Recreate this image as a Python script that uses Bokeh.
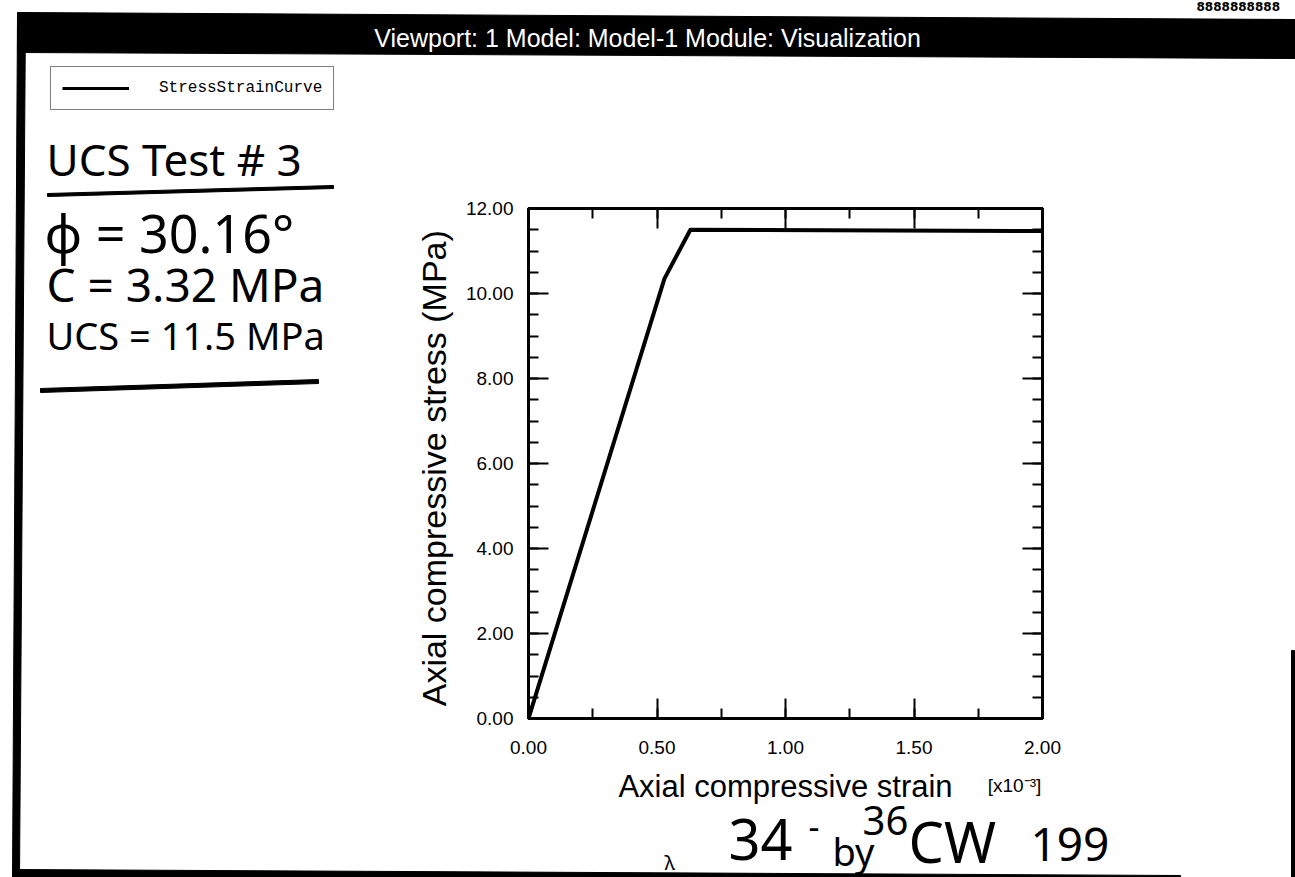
from bokeh.plotting import figure
from bokeh.layouts import column
from bokeh.models import (Range1d, LinearAxis, SingleIntervalTicker, NumeralTickFormatter,
                          CustomJSTickFormatter, Legend, LegendItem, GridBox)
from bokeh.core.properties import value
from bokeh.embed import file_html
from bokeh.resources import INLINE

# ---------------- data ----------------
strain = [0.0, 0.529, 0.630, 2.0]        # axial compressive strain [x10^-3]
stress = [0.0, 10.35, 11.50, 11.47]      # axial compressive stress (MPa)
series_name = "StressStrainCurve"
header_text = "Viewport: 1  Model: Model-1  Module: Visualization"
notes = ["UCS Test # 3", "ϕ = 30.16°", "C = 3.32 MPa", "UCS = 11.5 MPa"]

# ---------------- layout ----------------
W, H = 1295, 877
FL, FR, FT, FB = 528, 1042, 208, 718   # chart frame edges in canvas px
TICK_FONT = "Liberation Sans"

# ======== background page (decorations, canvas pixel coordinates) ========
bg = figure(width=W, height=H, x_range=Range1d(0, W), y_range=Range1d(H, 0),
            output_backend="svg", toolbar_location=None,
            x_axis_location=None, y_axis_location=None,
            min_border=0, min_border_left=0, min_border_right=0,
            min_border_top=0, min_border_bottom=0)
bg.grid.visible = False
bg.outline_line_color = None
bg.background_fill_color = "white"
bg.border_fill_color = "white"


def poly(xs, ys):
    bg.patch(xs, ys, fill_color="black", line_color="black", line_width=1)


# header bar, left bar, bottom bar, right edge
poly([17, 1295, 1295, 17], [12, 19, 58, 52])
poly([17, 25, 19, 12], [12, 12, 877, 877])
poly([12, 1180, 1180, 12], [869, 875, 877, 877])
poly([1291, 1294, 1294, 1291], [650, 650, 877, 877])
# handwritten underlines
poly([47, 333, 333, 47], [193, 185, 188, 196])
poly([40, 318, 318, 40], [388, 379, 383, 392])


def label(x, y, text, size, font="Noto Sans", color="black", align="left",
          baseline="middle", style="normal", angle=0):
    bg.text(x=[x], y=[y], text=[text], text_font=value(font), text_font_size=size,
            text_color=color, text_align=align, text_baseline=baseline,
            text_font_style=style, angle=angle)


label(654, 37, header_text, "25px", font="Liberation Sans", color="white", align="center")
label(1196, 6, "8888888888", "12px", font="DejaVu Sans", style="bold")

label(46, 158, notes[0], "44px")
label(44, 232, notes[1], "52px")
label(46, 283, notes[2], "46px")
label(46, 334, notes[3], "38px")

label(1014, 785, "[x10⁻³]", "19px", font=TICK_FONT, align="center")

label(664, 862, "λ", "20px")
label(728, 839, "34", "56px")
label(808, 826, "-", "34px")
label(862, 820, "36", "40px")
label(832, 850, "by", "38px")
label(908, 840, "CW", "56px")
label(1030, 844, "199", "46px")

# legend (series key), drawn on the page; its key line lies outside the visible page
key = bg.line(x=[-50, -40], y=[-50, -50], line_width=3, line_color="black")
legend = Legend(items=[LegendItem(label=series_name, renderers=[key])],
                location=(50, H - 110),
                border_line_color="black", border_line_width=1.5,
                background_fill_color="white", background_fill_alpha=1,
                padding=11, margin=0, glyph_width=67, glyph_height=20,
                label_standoff=30, label_text_font="Liberation Mono",
                label_text_font_size="16px", label_text_color="black")
bg.add_layout(legend, "center")

# ======== chart (transparent, on top) ========
p = figure(width=W, height=H, x_range=Range1d(0, 2), y_range=Range1d(0, 12),
           output_backend="svg", toolbar_location=None,
           x_axis_location=None, y_axis_location=None,
           min_border_left=FL, min_border_right=W - FR,
           min_border_top=FT, min_border_bottom=H - FB)
p.grid.visible = False
p.background_fill_alpha = 0
p.border_fill_alpha = 0
p.outline_line_color = "black"
p.outline_line_width = 3


def style_axis(ax):
    ax.axis_line_color = "black"
    ax.axis_line_width = 3
    ax.major_tick_in = 20
    ax.major_tick_out = 0
    ax.minor_tick_in = 10
    ax.minor_tick_out = 0
    ax.major_tick_line_color = "black"
    ax.minor_tick_line_color = "black"
    ax.major_tick_line_width = 2
    ax.minor_tick_line_width = 2
    ax.major_label_text_font = TICK_FONT
    ax.major_label_text_color = "black"
    ax.major_label_text_font_size = "19px"
    ax.axis_label_text_font = TICK_FONT
    ax.axis_label_text_font_style = "normal"
    ax.axis_label_text_color = "black"


def xticker():
    return SingleIntervalTicker(interval=0.5, num_minor_ticks=2)


def yticker():
    return SingleIntervalTicker(interval=2, num_minor_ticks=4)


blank = CustomJSTickFormatter(code="return ''")

xb = LinearAxis(ticker=xticker(), formatter=NumeralTickFormatter(format="0.00"),
                axis_label="Axial compressive strain")
style_axis(xb)
xb.major_label_standoff = 22
xb.axis_label_standoff = 12
xb.axis_label_text_font_size = "31px"
p.add_layout(xb, "below")

xt = LinearAxis(ticker=xticker(), formatter=blank)
style_axis(xt)
p.add_layout(xt, "above")

yl = LinearAxis(ticker=yticker(), formatter=NumeralTickFormatter(format="0.00"),
                axis_label="Axial compressive stress  (MPa)")
style_axis(yl)
yl.major_label_standoff = 15
yl.axis_label_standoff = 10
yl.axis_label_text_font_size = "34px"
p.add_layout(yl, "left")

yr = LinearAxis(ticker=yticker(), formatter=blank)
style_axis(yr)
p.add_layout(yr, "right")

p.line(strain, stress, line_width=4, line_color="black", line_join="round")

# both layers share one grid cell; each is wrapped so that their frames are not aligned
page = GridBox(children=[(column(bg), 0, 0), (column(p), 0, 0)])
open("out.html", "w").write(file_html(page, INLINE))
